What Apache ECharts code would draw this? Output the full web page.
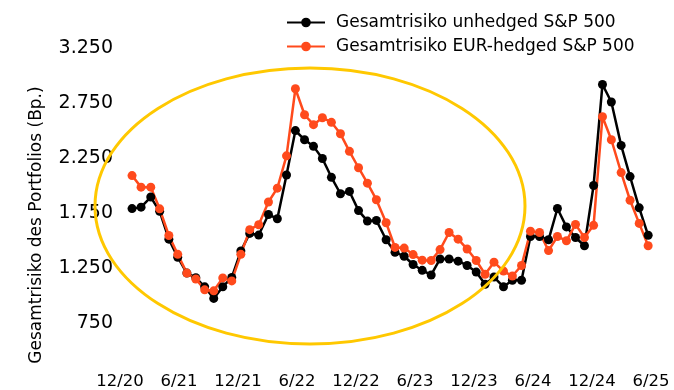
<!DOCTYPE html>
<html>
<head>
<meta charset="utf-8">
<script src="https://cdn.jsdelivr.net/npm/echarts@6/dist/echarts.min.js"></script>
<style>
  html, body { margin: 0; padding: 0; background: #fff; }
  #chart { width: 674px; height: 390px; }
</style>
</head>
<body>
<div id="chart"></div>
<script>
  // 4-weekly observations
  const dates = [
    '2021-01-08','2021-02-05','2021-03-05','2021-04-02','2021-04-30','2021-05-28','2021-06-25','2021-07-23','2021-08-20','2021-09-17','2021-10-15','2021-11-12','2021-12-10',
    '2022-01-07','2022-02-04','2022-03-04','2022-04-01','2022-04-29','2022-05-27','2022-06-24','2022-07-22','2022-08-19','2022-09-16','2022-10-14','2022-11-11','2022-12-09',
    '2023-01-06','2023-02-03','2023-03-03','2023-03-31','2023-04-28','2023-05-26','2023-06-23','2023-07-21','2023-08-18','2023-09-15','2023-10-13','2023-11-10','2023-12-08',
    '2024-01-05','2024-02-02','2024-03-01','2024-03-29','2024-04-26','2024-05-24','2024-06-21','2024-07-19','2024-08-16','2024-09-13','2024-10-11','2024-11-08','2024-12-06',
    '2025-01-03','2025-01-31','2025-02-28','2025-03-28','2025-04-25','2025-05-23'
  ]
  const unhedged = [
    1765, 1778, 1870, 1740, 1488, 1324, 1180, 1138, 1055, 950, 1055, 1140, 1380,
    1540, 1525, 1712, 1673, 2070, 2473, 2390, 2330, 2220, 2049, 1900, 1921, 1747,
    1652, 1658, 1482, 1368, 1333, 1258, 1205, 1163, 1308, 1308, 1288, 1249, 1189,
    1079, 1144, 1055, 1115, 1115, 1512, 1512, 1482, 1766, 1599, 1503, 1428, 1975,
    2892, 2733, 2339, 2056, 1772, 1523
  ]
  const hedged = [
    2065, 1960, 1960, 1763, 1521, 1350, 1180, 1126, 1028, 1019, 1136, 1109, 1350,
    1574, 1619, 1825, 1951, 2244, 2853, 2617, 2527, 2590, 2548, 2444, 2285, 2136,
    1996, 1846, 1637, 1413, 1407, 1348, 1297, 1294, 1393, 1548, 1488, 1398, 1294,
    1169, 1279, 1198, 1153, 1249, 1560, 1548, 1384, 1512, 1473, 1622, 1503, 1613,
    2599, 2390, 2092, 1841, 1631, 1428
  ]
  const xTickLabels = ['12/20','6/21','12/21','6/22','12/22','6/23','12/23','6/24','12/24','6/25']
  const yTicks = [750, 1250, 1750, 2250, 2750, 3250]
  const seriesNames = ['Gesamtrisiko unhedged S&P 500', 'Gesamtrisiko EUR-hedged S&P 500']

  const fontFamily = '"DejaVu Sans", sans-serif'

  // x axis runs in months, counted from 1 Dec 2020 (the "12/20" tick)
  function monthsSinceStart(s) {
    let p = s.split('-').map(Number)
    let daysInMonth = new Date(p[0], p[1], 0).getDate()
    return (p[0] - 2020) * 12 + (p[1] - 12) + (p[2] - 1) / daysInMonth
  }

  function fmtDe(v) {
    return String(v).replace(/\B(?=(\d{3})+(?!\d))/g, '.')
  }

  const myChart = echarts.init(document.getElementById('chart'))
  myChart.setOption({
    animation: false,
    textStyle: { fontFamily: fontFamily },
    grid: { left: 120, right: 23, top: 45, bottom: 38 },
    legend: {
      orient: 'vertical',
      left: 281,
      top: 9,
      itemWidth: 38,
      itemHeight: 12,
      itemGap: 7,
      textStyle: { fontSize: 17, color: '#000', fontFamily: fontFamily, padding: [0, 0, 0, 6] },
      data: seriesNames
    },
    xAxis: {
      type: 'value',
      min: 0,
      max: 54,
      interval: 6,
      axisLine: { show: false },
      axisTick: { show: false },
      splitLine: { show: false },
      axisLabel: {
        margin: 25,
        fontSize: 16.5,
        color: '#000',
        formatter: function (v) {
          return xTickLabels[Math.round(v / 6)] || ''
        }
      }
    },
    yAxis: {
      type: 'value',
      min: 500,
      max: 3250,
      axisLine: { show: false },
      axisTick: { show: false },
      splitLine: { show: false },
      axisLabel: {
        customValues: yTicks,
        margin: 7,
        fontSize: 19,
        color: '#000',
        verticalAlign: 'top',
        lineHeight: 6,
        formatter: function (v) { return fmtDe(v) }
      }
    },
    graphic: [
      {
        type: 'text',
        x: 37,
        y: 225,
        rotation: Math.PI / 2,
        style: {
          text: 'Gesamtrisiko des Portfolios (Bp.)',
          fontSize: 17,
          fontFamily: fontFamily,
          fill: '#000',
          align: 'center',
          verticalAlign: 'middle'
        }
      },
      {
        type: 'ellipse',
        z: 100,
        shape: { cx: 310, cy: 206, rx: 215, ry: 138 },
        style: { fill: 'none', stroke: '#ffc800', lineWidth: 3 }
      }
    ],
    series: [
      {
        name: seriesNames[0],
        type: 'line',
        symbol: 'circle',
        symbolSize: 9,
        color: '#000000',
        lineStyle: { width: 2.5 },
        data: dates.map((d, i) => [monthsSinceStart(d), unhedged[i]])
      },
      {
        name: seriesNames[1],
        type: 'line',
        symbol: 'circle',
        symbolSize: 9,
        color: '#ff4a1c',
        lineStyle: { width: 2.5 },
        data: dates.map((d, i) => [monthsSinceStart(d), hedged[i]])
      }
    ]
  })
</script>
</body>
</html>
